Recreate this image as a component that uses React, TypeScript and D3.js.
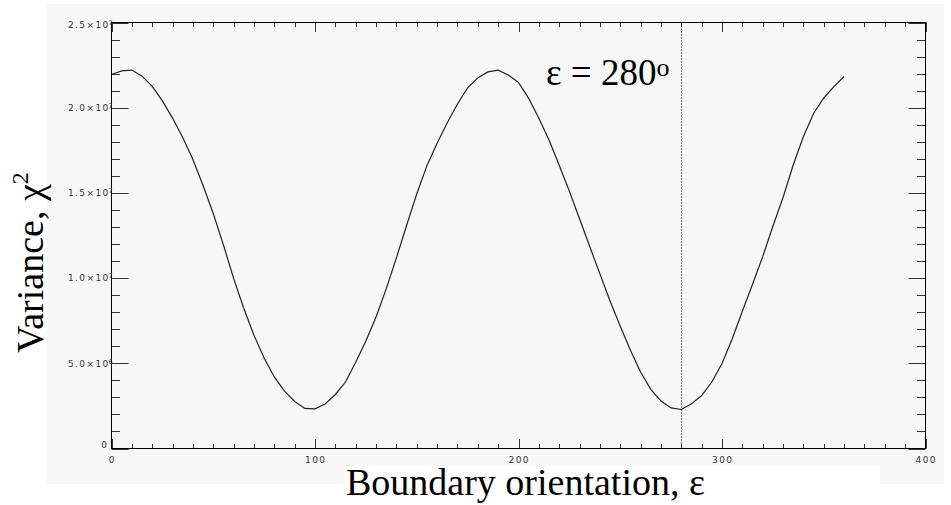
import React from 'react';
import * as d3 from 'd3';

// Boundary orientation (degrees) sampled every 5°
const angles = [
  0, 5, 10, 15, 20, 25, 30, 35, 40, 45, 50, 55, 60, 65, 70, 75, 80, 85, 90, 95,
  100, 105, 110, 115, 120, 125, 130, 135, 140, 145, 150, 155, 160, 165, 170, 175,
  180, 185, 190, 195, 200, 205, 210, 215, 220, 225, 230, 235, 240, 245, 250, 255,
  260, 265, 270, 275, 280, 285, 290, 295, 300, 305, 310, 315, 320, 325, 330, 335,
  340, 345, 350, 355, 360,
];

// Variance chi^2 at each orientation
const variance = [
  21.95e6, 22.16e6, 22.21e6, 21.85e6, 21.25e6, 20.4e6, 19.39e6, 18.25e6, 16.96e6, 15.43e6,
  13.79e6, 11.95e6, 9.98e6, 8.23e6, 6.65e6, 5.31e6, 4.2e6, 3.37e6, 2.76e6, 2.35e6,
  2.33e6, 2.61e6, 3.17e6, 3.9e6, 5.06e6, 6.31e6, 7.72e6, 9.37e6, 11.19e6, 13.09e6,
  14.94e6, 16.6e6, 17.92e6, 19.12e6, 20.22e6, 21.16e6, 21.75e6, 22.1e6, 22.2e6, 21.92e6,
  21.48e6, 20.55e6, 19.38e6, 18.1e6, 16.62e6, 15.1e6, 13.48e6, 11.85e6, 10.25e6, 8.66e6,
  7.17e6, 5.77e6, 4.49e6, 3.47e6, 2.79e6, 2.38e6, 2.29e6, 2.62e6, 3.11e6, 3.9e6,
  4.99e6, 6.43e6, 8.05e6, 9.64e6, 11.26e6, 13.04e6, 14.73e6, 16.64e6, 18.31e6, 19.66e6,
  20.57e6, 21.24e6, 21.83e6,
];

const xTickValues = [0, 100, 200, 300, 400];
const yTickValues = [0, 5e6, 1e7, 1.5e7, 2e7, 2.5e7];
const yTickMantissa = ['0', '5.0', '1.0', '1.5', '2.0', '2.5'];
const yTickExponent = ['', '6', '7', '7', '7', '7'];

const markedAngle = 280;

const W = 951;
const H = 505;

export default function App() {
  const x = d3.scaleLinear().domain([0, 400]).range([111.5, 925.5]);
  const y = d3.scaleLinear().domain([0, 2.5e7]).range([448.5, 22.5]);

  const [x0, x1] = x.range();
  const [y0, y1] = y.range();

  const xMinor = x.ticks(40);
  const yMinor = y.ticks(25);

  const line = d3
    .line<number>()
    .x((_, i) => x(angles[i]))
    .y((d) => y(d));

  const tickFont = "'DejaVu Sans', sans-serif";
  const serif = "'Liberation Serif', 'Times New Roman', serif";
  const tickColor = '#333';

  const isMajorX = (v: number) => xTickValues.includes(v);
  const isMajorY = (v: number) => yTickValues.some((t) => Math.abs(t - v) < 1);

  // vertical nudge of left-axis labels so the end labels stay inside the frame
  const yLabelShift = (i: number) => {
    if (i === 0) return -0.2;
    if (i === yTickValues.length - 1) return 5.8;
    return 3.3;
  };

  const markX = Math.round(x(markedAngle)) + 0.5;

  return (
    <svg
      width={W}
      height={H}
      style={{ position: 'absolute', left: 0, top: 0, background: '#fff' }}
    >
      <rect x={0} y={0} width={W} height={H} fill="#fff" />
      {/* plot panel */}
      <rect x={47} y={4} width={897} height={480} fill="#f7f7f7" />
      {/* backing for the x-axis title */}
      <rect x={344} y={466} width={536} height={39} fill="#fff" />

      {/* minor and major ticks on x axes (bottom and top) */}
      {xMinor.map((v) => {
        const len = isMajorX(v) ? 9.5 : 4.5;
        const px = Math.round(x(v)) + 0.5;
        return (
          <g key={`xt${v}`} stroke={tickColor} strokeWidth={1}>
            <line x1={px} x2={px} y1={y0} y2={y0 - len} />
            <line x1={px} x2={px} y1={y1} y2={y1 + len} />
          </g>
        );
      })}

      {/* minor and major ticks on y axes (left and right) */}
      {yMinor.map((v) => {
        const len = isMajorY(v) ? 17 : 8.5;
        const py = Math.round(y(v)) + 0.5;
        return (
          <g key={`yt${v}`} stroke={tickColor} strokeWidth={1}>
            <line x1={x0} x2={x0 + len} y1={py} y2={py} />
            <line x1={x1} x2={x1 - len} y1={py} y2={py} />
          </g>
        );
      })}

      {/* frame */}
      <rect
        x={x0}
        y={y1}
        width={x1 - x0}
        height={y0 - y1}
        fill="none"
        stroke="#000"
        strokeWidth={1}
      />

      {/* x tick labels */}
      {xTickValues.map((v) => (
        <text
          key={`xl${v}`}
          x={x(v) + 0.7}
          y={462.5}
          textAnchor="middle"
          fontFamily={tickFont}
          fontSize={9}
          letterSpacing={1.4}
          fill={tickColor}
        >
          {v}
        </text>
      ))}

      {/* y tick labels */}
      {yTickValues.map((v, i) => {
        const base = y(v) + yLabelShift(i);
        const exp = yTickExponent[i];
        return (
          <g key={`yl${v}`} fill={tickColor} fontFamily={tickFont}>
            <text
              x={exp ? 109.7 : 108.4}
              y={base}
              textAnchor="end"
              fontSize={9}
              letterSpacing={1.4}
            >
              {exp ? `${yTickMantissa[i]}×10` : yTickMantissa[i]}
            </text>
            {exp && (
              <text x={108.5} y={base - 3} fontSize={6.3}>
                {exp}
              </text>
            )}
          </g>
        );
      })}

      {/* variance curve */}
      <path d={line(variance) ?? ''} fill="none" stroke="#222" strokeWidth={1.2} />

      {/* marked orientation */}
      <line
        x1={markX}
        x2={markX}
        y1={y1}
        y2={y0}
        stroke="#000"
        strokeWidth={1}
        strokeDasharray="1,2"
      />
      <text x={546} y={85} fontFamily="'Liberation Serif', serif" fontSize={37} fill="#000">
        <tspan>ε = </tspan>
        <tspan>{markedAngle}</tspan>
        <tspan fontSize={26} dy={-9}>
          o
        </tspan>
      </text>

      {/* axis titles */}
      <text x={346} y={495} fontFamily={serif} fontSize={38} fill="#000">
        Boundary orientation, ε
      </text>
      <text
        transform="translate(43,353) rotate(-90)"
        fontFamily={serif}
        fontSize={38}
        fill="#000"
      >
        Variance, χ
        <tspan fontSize={24} dy={-15}>
          2
        </tspan>
      </text>
    </svg>
  );
}
